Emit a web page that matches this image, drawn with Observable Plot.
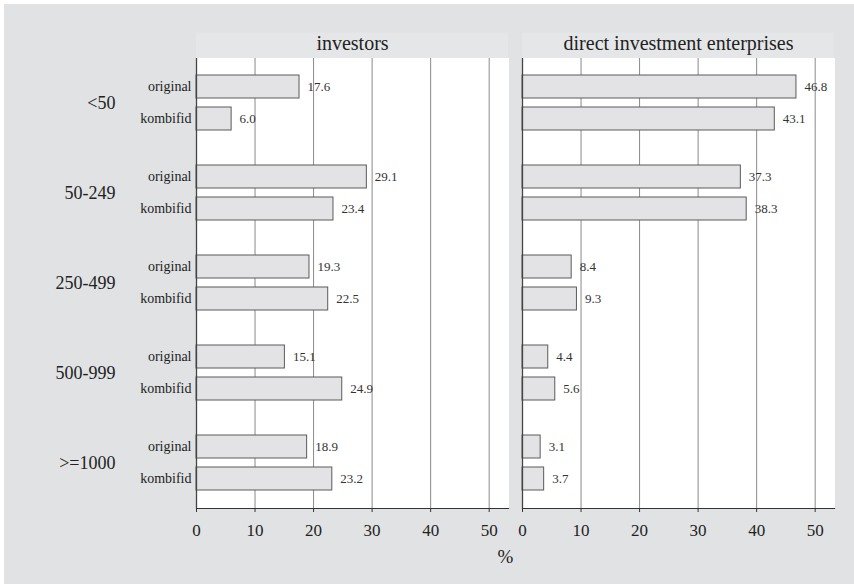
<!DOCTYPE html>
<html>
<head>
<meta charset="utf-8">
<script src="https://cdn.jsdelivr.net/npm/d3@7"></script>
<script src="https://cdn.jsdelivr.net/npm/@observablehq/plot@0.6"></script>
<style>
  html, body { margin: 0; padding: 0; background: #ffffff; }
  #chart { position: absolute; left: 4px; top: 4px; }
  svg { display: block; }
  svg text { font-family: "Liberation Serif", "Times New Roman", serif; }
</style>
</head>
<body>
<div id="chart"></div>
<script>
const panels = ["investors", "direct investment enterprises"];
const groups = ["<50", "50-249", "250-499", "500-999", ">=1000"];
const types = ["original", "kombifid"];
const xTicks = [0, 10, 20, 30, 40, 50];

const investorsOriginal = [17.6, 29.1, 19.3, 15.1, 18.9];
const investorsKombifid = [6.0, 23.4, 22.5, 24.9, 23.2];
const enterprisesOriginal = [46.8, 37.3, 8.4, 4.4, 3.1];
const enterprisesKombifid = [43.1, 38.3, 9.3, 5.6, 3.7];

const series = [
  [investorsOriginal, investorsKombifid],
  [enterprisesOriginal, enterprisesKombifid]
];

const data = [];
panels.forEach((p, pi) => {
  groups.forEach((g, gi) => {
    types.forEach((t, ti) => {
      data.push({panel: p, group: g, type: t, value: series[pi][ti][gi]});
    });
  });
});

const font = "Liberation Serif, Times New Roman, serif";
const bg = "#e1e2e4";

const plot = Plot.plot({
  width: 850,
  height: 580,
  marginTop: 54,
  marginBottom: 76,
  marginLeft: 191,
  marginRight: 20,
  style: {fontFamily: font, background: bg, color: "#222"},
  fx: {domain: panels, paddingInner: 0.043, paddingOuter: 0},
  fy: {domain: groups, padding: 0},
  x: {domain: [0, 53.3]},
  y: {domain: types, paddingInner: 0.28, paddingOuter: 0.53},
  marks: [
    Plot.frame({fill: "white", stroke: "white", strokeWidth: 1}),
    Plot.ruleX(xTicks.slice(1), {stroke: "#8a8a8a", strokeWidth: 1}),
    Plot.barX(data, {
      fx: "panel", fy: "group", y: "type", x: "value",
      fill: "#e3e3e5", stroke: "#5a5a5a", strokeWidth: 1
    }),
    Plot.text(data, {
      fx: "panel", fy: "group", y: "type", x: "value",
      text: d => d.value.toFixed(1),
      textAnchor: "start", dx: 8, fontSize: 13, fill: "#333", letterSpacing: "1.5px"
    }),
    Plot.ruleX([0], {stroke: "#444", strokeWidth: 1.3}),
    Plot.frame({anchor: "bottom", facetAnchor: "bottom", stroke: "#333", strokeWidth: 1.2}),
    Plot.axisFx({anchor: "top", label: null, tickSize: 0, tickPadding: 9, fontSize: 20, fill: "#222"}),
    Plot.axisFy({anchor: "left", label: null, tickSize: 0, tickPadding: 81, fontSize: 18, fill: "#222", letterSpacing: "1.5px"}),
    Plot.axisY({anchor: "left", label: null, tickSize: 0, tickPadding: 5, fontSize: 14, fill: "#222", letterSpacing: "1px"}),
    Plot.axisX({anchor: "bottom", ticks: xTicks, label: null, tickSize: 4, tickPadding: 11, fontSize: 17, fill: "#222", stroke: "#333"}),
    Plot.text(["%"], {facet: "super", frameAnchor: "bottom", dy: 54, dx: -10, fontSize: 19, fill: "#222"})
  ]
});

// lighter header strip behind the facet titles, placed from Plot's fx scale
const fx = plot.scale("fx");
const svg = d3.select(plot);
const strip = svg.insert("g", ":first-child");
panels.forEach(p => {
  strip.append("rect")
    .attr("x", fx.apply(p))
    .attr("y", 28.5)
    .attr("width", fx.bandwidth)
    .attr("height", 54 - 28.5)
    .attr("fill", "#e5e6e8");
});
const styleEl = plot.querySelector("style");
if (styleEl) styleEl.after(strip.node());

document.getElementById("chart").append(plot);
</script>
</body>
</html>
